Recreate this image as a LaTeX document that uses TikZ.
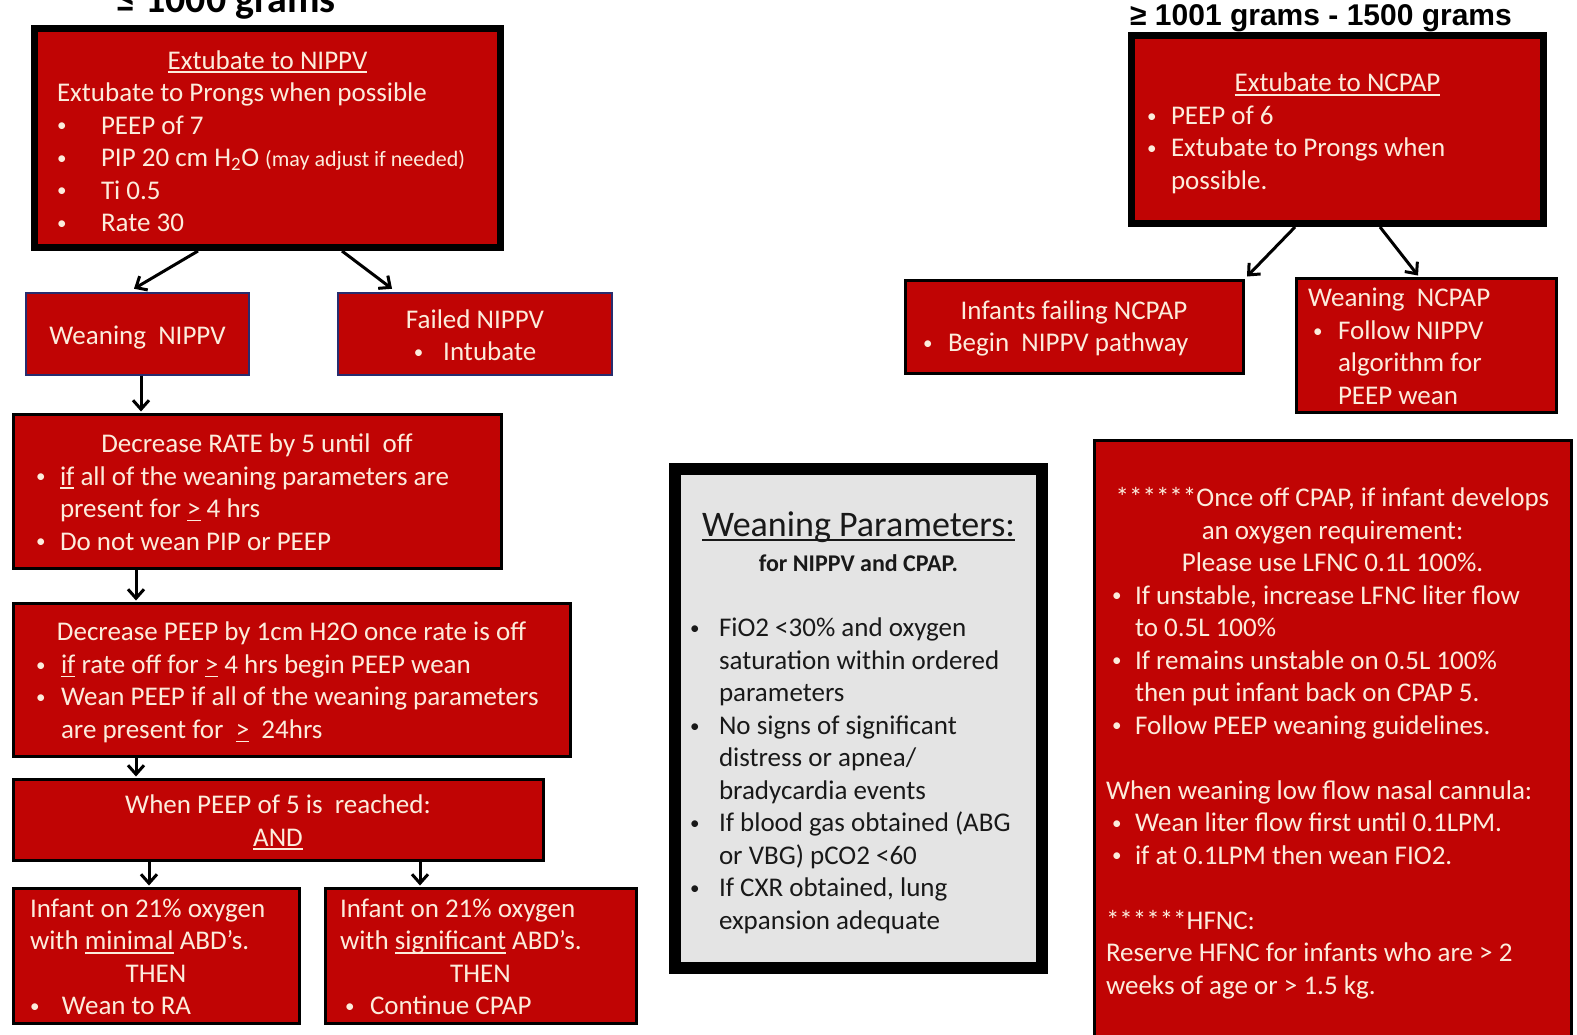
\documentclass[tikz,border=0pt]{standalone}
\usepackage{fontspec}
\setmainfont{Carlito}
\newfontfamily\arialfont{Liberation Sans}
\usetikzlibrary{arrows.meta,calc}
\definecolor{boxred}{RGB}{192,4,4}
\definecolor{cream}{RGB}{252,236,220}
\definecolor{navyb}{RGB}{40,45,110}
\definecolor{paramgray}{RGB}{228,228,228}
\definecolor{darktext}{RGB}{25,25,25}
\newsavebox\ulbox
\newcommand\ul[1]{\sbox\ulbox{#1}\rlap{\rule[-0.14em]{\wd\ulbox}{0.06em}}\usebox\ulbox}
\newcommand\bul{\raisebox{0.08em}{\fontsize{19}{19}\selectfont\textbullet}}
\newcommand\Lc[1]{\noindent\makebox[\linewidth][c]{#1}\par}
\newcommand\Ll[1]{\noindent\makebox[\linewidth][l]{#1}\par}
\newcommand\Lb[2][24pt]{\noindent\makebox[\linewidth][l]{\makebox[#1][l]{\bul}#2}\par}
\newcommand\Li[2][24pt]{\noindent\makebox[\linewidth][l]{\hspace*{#1}#2}\par}
\tikzset{
  redbox/.style={draw=black, line width=3pt, fill=boxred, text=cream, inner sep=0pt,
    font=\fontsize{27}{32.5}\selectfont},
  navybox/.style={redbox, draw=navyb, line width=2.5pt},
  heavybox/.style={redbox, line width=7pt},
  parambox/.style={draw=black, line width=12pt, fill=paramgray, text=darktext, inner sep=0pt,
    font=\fontsize{27}{32.5}\selectfont},
  arr/.style={draw=black, line width=3pt, -{Straight Barb[length=9pt,width=16pt]}},
  header/.style={anchor=base west, inner sep=0pt}
}
\begin{document}
\begin{tikzpicture}[x=1pt,y=-1pt]
\clip (0,0) rectangle (1577,1034);
\fill[white] (0,0) rectangle (1577,1034);

% headers
\node[header, font=\fontsize{40}{48}\selectfont\bfseries] (h1) at (116,12) {≤ 1000 grams};
\node[header, font=\arialfont\fontsize{30}{36}\selectfont\bfseries] (h2) at (1130,25) {≥ 1001 grams - 1500 grams};

% left column
\node[heavybox, minimum width=466pt, minimum height=219pt] (b1) at (267.5,138) {\parbox{421pt}{%
\vspace*{6pt}
\Lc{\ul{Extubate to NIPPV}}
\Ll{Extubate to Prongs when possible}
\Lb[44pt]{PEEP of 7}
\Lb[44pt]{PIP 20 cm H\textsubscript{2}O {\fontsize{22}{26}\selectfont(may adjust if needed)}}
\Lb[44pt]{Ti 0.5}
\Lb[44pt]{Rate 30}}};

\node[navybox, minimum width=223pt, minimum height=82pt] (wn) at (137.5,334) {\parbox{200pt}{%
\vspace*{8pt}
\Lc{Weaning\ \ NIPPV}}};

\node[navybox, minimum width=274pt, minimum height=82pt] (fn) at (475,334) {\parbox{240pt}{%
\vspace*{2pt}
\Lc{Failed NIPPV}
\Lc{\bul\hspace{20pt}Intubate}}};

\node[redbox, minimum width=488pt, minimum height=154pt] (rate) at (257,491) {\parbox{442pt}{%
\vspace*{2pt}
\Lc{Decrease RATE by 5 until\ \ off}
\Lb{\ul{if} all of the weaning parameters are}
\Li{present for \ul{>} 4 hrs}
\Lb{Do not wean PIP or PEEP}}};

\node[redbox, minimum width=557pt, minimum height=153pt] (peep) at (291.5,679.5) {\parbox{511pt}{%
\vspace*{6pt}
\Lc{Decrease PEEP by 1cm H2O once rate is off}
\Lb[25pt]{\ul{if} rate off for \ul{>} 4 hrs begin PEEP wean}
\Lb[25pt]{Wean PEEP if all of the weaning parameters}
\Li[25pt]{are present for\ \ \ul{>}\ \ 24hrs}}};

\node[redbox, minimum width=530pt, minimum height=81pt] (when) at (278,819.5) {\parbox{490pt}{%
\vspace*{6pt}
\Lc{When PEEP of 5 is\ \ reached:}
\Lc{\ul{AND}}}};

\node[redbox, minimum width=286pt, minimum height=135pt] (imin) at (156,955.5) {\parbox{252pt}{%
\vspace*{3pt}
\Ll{Infant on 21\% oxygen}
\Ll{with \ul{minimal} ABD’s.}
\Lc{THEN}
\Lb[32pt]{Wean to RA}}};

\node[redbox, minimum width=311pt, minimum height=135pt] (isig) at (480.5,955.5) {\parbox{281pt}{%
\vspace*{3pt}
\Ll{Infant on 21\% oxygen}
\Ll{with \ul{significant} ABD’s.}
\Lc{THEN}
\Ll{\hspace*{5pt}\makebox[25pt][l]{\bul}Continue CPAP}}};

% right column
\node[heavybox, minimum width=412pt, minimum height=188pt] (b2) at (1337.5,129.5) {\parbox{381pt}{%
\vspace*{8pt}
\Lc{\ul{Extubate to NCPAP}}
\Lb{PEEP of 6}
\Lb{Extubate to Prongs when}
\Li{possible.}}};

\node[redbox, minimum width=338pt, minimum height=93pt] (inf) at (1074,326.5) {\parbox{302pt}{%
\vspace*{4pt}
\Lc{Infants failing NCPAP}
\Lb[25pt]{Begin\ \ NIPPV pathway}}};

\node[redbox, minimum width=260pt, minimum height=134pt] (wnc) at (1426,345) {\parbox{236pt}{%
\vspace*{3pt}
\Ll{Weaning\ \ NCPAP}
\Ll{\hspace*{5pt}\makebox[25pt][l]{\bul}Follow NIPPV}
\Li[30pt]{algorithm for}
\Li[30pt]{PEEP wean}}};

\node[parambox, minimum width=367pt, minimum height=499pt] (wp) at (858.5,718.5) {\parbox{337pt}{%
\vspace*{8pt}
\Lc{\fontsize{36}{40}\selectfont\ul{Weaning Parameters:}}
\vspace{3pt}
\Lc{\fontsize{24}{28}\selectfont\bfseries for NIPPV and CPAP.}
\Ll{}
\Lb[29pt]{FiO2 <30\% and oxygen}
\Li[29pt]{saturation within ordered}
\Li[29pt]{parameters}
\Lb[29pt]{No signs of significant}
\Li[29pt]{distress or apnea/}
\Li[29pt]{bradycardia events}
\Lb[29pt]{If blood gas obtained (ABG}
\Li[29pt]{or VBG) pCO2 <60}
\Lb[29pt]{If CXR obtained, lung}
\Li[29pt]{expansion adequate}}};

\node[redbox, minimum width=477pt, minimum height=606pt] (big) at (1332.5,743) {\parbox{441pt}{%
\Lc{******Once off CPAP, if infant develops}
\Lc{an oxygen requirement:}
\Lc{Please use LFNC 0.1L 100\%.}
\Lb[23pt]{If unstable, increase LFNC liter flow}
\Li[23pt]{to 0.5L 100\%}
\Lb[23pt]{If remains unstable on 0.5L 100\%}
\Li[23pt]{then put infant back on CPAP 5.}
\Lb[23pt]{Follow PEEP weaning guidelines.}
\Ll{}
\Ll{\hspace*{-6pt}When weaning low flow nasal cannula:}
\Lb[23pt]{Wean liter flow first until 0.1LPM.}
\Lb[23pt]{if at 0.1LPM then wean FIO2.}
\Ll{}
\Ll{\hspace*{-6pt}******HFNC:}
\Ll{\hspace*{-6pt}Reserve HFNC for infants who are > 2}
\Ll{\hspace*{-6pt}weeks of age or > 1.5 kg.}}};

% connectors
\draw[arr] ($(b1.south)+(-69.5,0)$) -- ($(wn.north)+(-3.5,-3)$);
\draw[arr] ($(b1.south)+(74.5,0)$) -- ($(fn.north)+(-83,-3)$);
\draw[arr] ($(wn.south)+(3.5,0)$) -- ($(rate.north)+(-116,-1)$);
\draw[arr] ($(rate.south)+(-121,0)$) -- ($(peep.north)+(-155.5,-1)$);
\draw[arr] ($(peep.south)+(-155.5,0)$) -- ($(when.north)+(-142,-1)$);
\draw[arr] ($(when.south)+(-129,0)$) -- ($(imin.north)+(-7,-1)$);
\draw[arr] ($(when.south)+(142,0)$) -- ($(isig.north)+(-60.5,-1)$);
\draw[arr] ($(b2.south)+(-42.5,0)$) -- ($(inf.north)+(173,-2)$);
\draw[arr] ($(b2.south)+(42.5,0)$) -- ($(wnc.north)+(-8,-1)$);
\end{tikzpicture}
\end{document}
